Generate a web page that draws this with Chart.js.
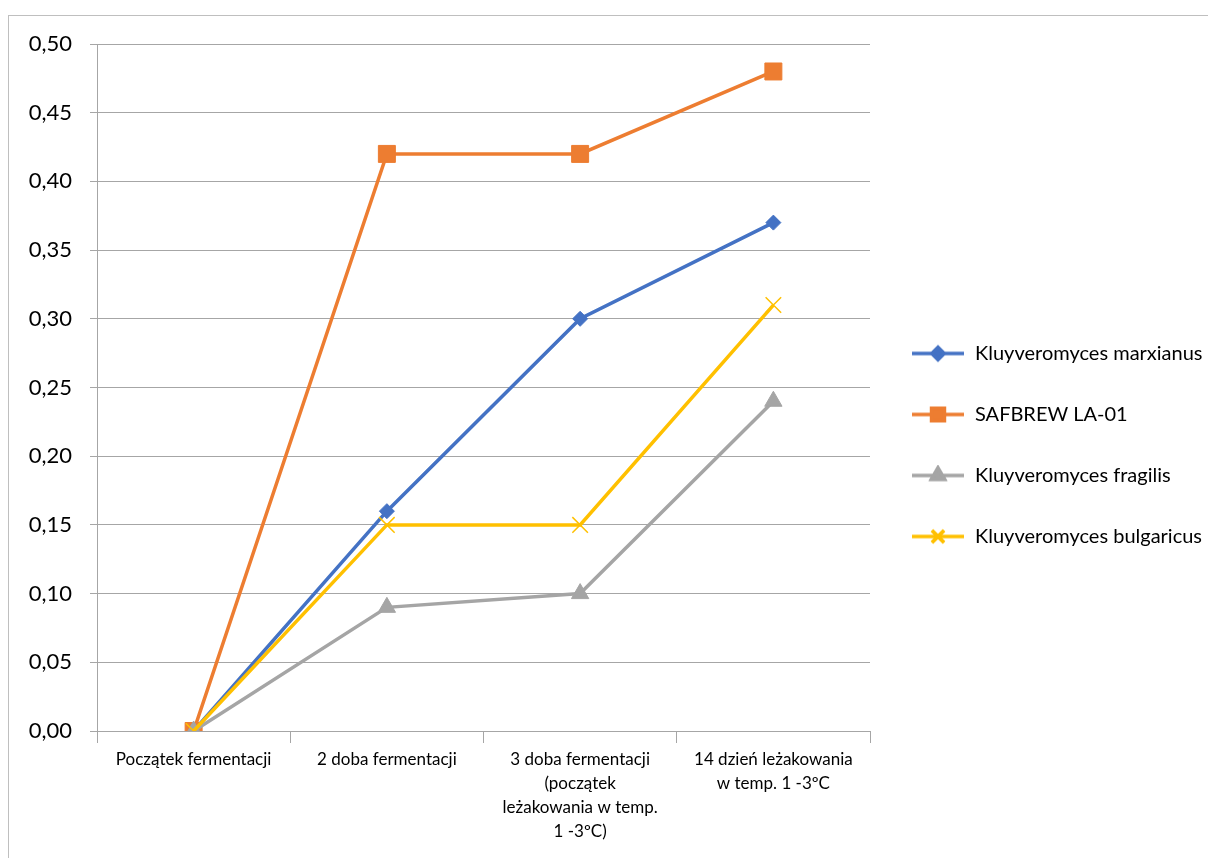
<!DOCTYPE html>
<html>
<head>
<meta charset="utf-8">
<script src="https://cdn.jsdelivr.net/npm/chart.js@4/dist/chart.umd.min.js"></script>
<style>
  body { margin: 0; background: #fff; }
  #wrap { position: relative; width: 1208px; height: 858px; overflow: hidden; }
  #frame { position: absolute; left: 8px; top: 15px; width: 1230px; height: 870px; border: 1px solid #bfbfbf; }
  #chart { position: absolute; left: 0; top: 0; }
</style>
</head>
<body>
<div id="wrap">
  <div id="frame"></div>
  <canvas id="chart" width="1208" height="858"></canvas>
</div>
<script>
const categories = [
  'Początek fermentacji',
  '2 doba fermentacji',
  ['3 doba fermentacji', '(początek', 'leżakowania w temp.', '1 -3ºC)'],
  ['14 dzień leżakowania', 'w temp. 1 -3ºC']
]
const seriesNames = [
  'Kluyveromyces marxianus',
  'SAFBREW LA-01',
  'Kluyveromyces fragilis',
  'Kluyveromyces bulgaricus'
]
const marxianus = [0, 0.16, 0.30, 0.37]
const safbrew = [0, 0.42, 0.42, 0.48]
const fragilis = [0, 0.09, 0.10, 0.24]
const bulgaricus = [0, 0.15, 0.15, 0.31]

const FONT = 'Lato, "Open Sans", sans-serif'

// small line+marker swatch used as legend symbol
function swatch(color, style, radius) {
  const c = document.createElement('canvas')
  c.width = 54
  c.height = 22
  const ctx = c.getContext('2d')
  ctx.strokeStyle = color
  ctx.lineWidth = 3.5
  ctx.beginPath()
  ctx.moveTo(1, 11)
  ctx.lineTo(53, 11)
  ctx.stroke()
  Chart.helpers.drawPoint(ctx, {
    pointStyle: style, radius: radius, rotation: 0,
    borderWidth: style === 'crossRot' ? 1.5 : 1
  }, 27, 11)
  ctx.fillStyle = color
  ctx.fill()
  ctx.stroke()
  return c
}

const looks = [
  { color: '#4472C4', style: 'rectRot', radius: 7.5, legendRadius: 6 },
  { color: '#ED7D31', style: 'rect', radius: 12, legendRadius: 9 },
  { color: '#A5A5A5', style: 'triangle', radius: 10, legendRadius: 7.5 },
  { color: '#FFC000', style: 'crossRot', radius: 11, legendRadius: 8.5 }
]
const values = [marxianus, safbrew, fragilis, bulgaricus]

const datasets = values.map((data, i) => ({
  label: seriesNames[i],
  data: data,
  borderColor: looks[i].color,
  backgroundColor: looks[i].color,
  borderWidth: 3.5,
  pointStyle: looks[i].style,
  pointRadius: looks[i].radius,
  pointBorderWidth: looks[i].style === 'crossRot' ? 1.5 : 1,
  tension: 0,
  order: 4 - i
}))

new Chart(document.getElementById('chart'), {
  type: 'line',
  data: { labels: categories, datasets: datasets },
  options: {
    responsive: false,
    animation: false,
    layout: { padding: { top: 44, left: 0, right: 0, bottom: 12 } },
    scales: {
      x: {
        offset: true,
        grid: { offset: true, drawOnChartArea: false, drawTicks: true, tickLength: 12, color: '#a6a6a6' },
        border: { color: '#a6a6a6' },
        ticks: { color: '#000', font: { family: FONT, size: 17, lineHeight: 1.4 }, padding: 5, maxRotation: 0, autoSkip: false },
        afterFit(scale) { scale.height = 115 }
      },
      y: {
        min: 0,
        max: 0.5,
        grid: { color: '#a6a6a6', tickLength: 7 },
        border: { color: '#a6a6a6' },
        ticks: {
          stepSize: 0.05,
          color: '#000',
          padding: 18,
          font: { family: FONT, size: 22 },
          callback: v => v.toFixed(2).replace('.', ',')
        },
        afterFit(scale) { scale.width = 97 }
      }
    },
    plugins: {
      tooltip: { enabled: false },
      legend: {
        position: 'right',
        maxWidth: 338,
        labels: {
          color: '#000',
          font: { family: FONT, size: 20 },
          usePointStyle: true,
          pointStyleWidth: 54,
          boxHeight: 20,
          padding: 41,
          generateLabels(chart) {
            return chart.data.datasets.map((ds, i) => ({
              text: ds.label,
              fontColor: '#000',
              pointStyle: swatch(looks[i].color, looks[i].style, looks[i].legendRadius),
              datasetIndex: i,
              lineWidth: 0,
              hidden: false
            }))
          }
        }
      }
    }
  }
})
</script>
</body>
</html>
